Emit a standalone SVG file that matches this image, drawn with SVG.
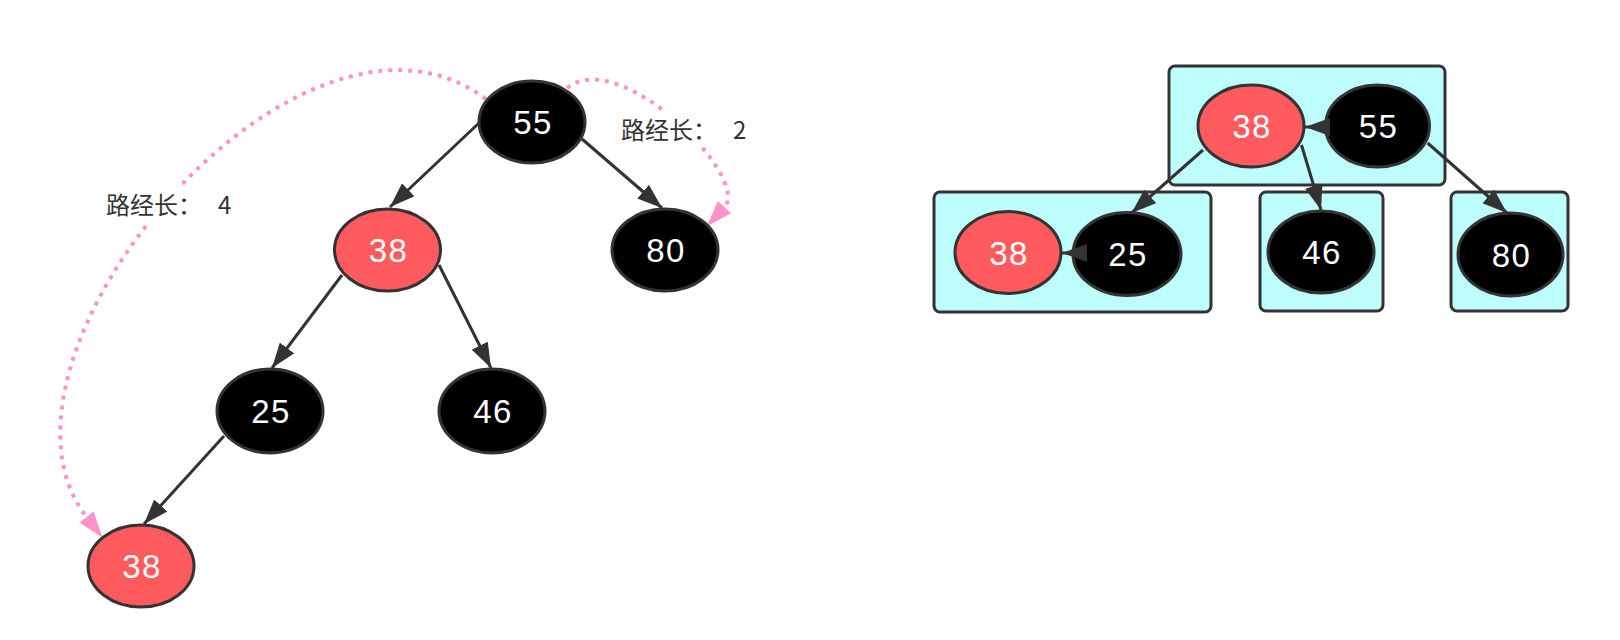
<svg xmlns="http://www.w3.org/2000/svg" width="1620" height="640" viewBox="0 0 1620 640">
<defs>
<style>
.blk{fill:#000;stroke:#333;stroke-width:3}
.red{fill:#ff5b5f;stroke:#333;stroke-width:3}
.box{fill:#bdfefd;stroke:#333;stroke-width:3}
.num{font-family:"Liberation Sans",Arial,sans-serif;font-size:33px;letter-spacing:1.5px;fill:#fff;text-anchor:middle}
.edge{fill:none;stroke:#333;stroke-width:3;marker-end:url(#ah)}
.path{fill:none;stroke:#ff91cb;stroke-width:4;stroke-dasharray:4 6;marker-end:url(#ph)}
.lbl{font-family:"Noto Sans CJK SC","Liberation Sans",sans-serif;font-size:24px;fill:#333}
</style>
<marker id="ah" viewBox="0 -9 25 18" refX="25" refY="0" markerWidth="25" markerHeight="18" markerUnits="userSpaceOnUse" orient="auto">
<path d="M0,-9 L25,0 L0,9 z" fill="#333"/>
</marker>
<marker id="ph" viewBox="0 -9 26 18" refX="0" refY="0" markerWidth="26" markerHeight="18" markerUnits="userSpaceOnUse" orient="auto">
<path d="M0,-9 L26,0 L0,9 z" fill="#ff91cb"/>
</marker>
</defs>
<rect width="1620" height="640" fill="#fff"/>

<g id="paths">
<path class="path" d="M486,99 C300,-40 -36,359 86.5,517"/>
<path class="path" d="M567,88 C620,45 751,178 724.5,207"/>
</g>
<g id="label-4">
<rect x="102" y="186" width="136" height="37" fill="#fff"/>
<text class="lbl" x="106" y="214">路经长： <tspan x="218">4</tspan></text>
</g>
<g id="label-2">
<rect x="616" y="112" width="136" height="35" fill="#fff"/>
<text class="lbl" x="621" y="139">路经长： <tspan x="733">2</tspan></text>
</g>

<g id="L55"><ellipse class="blk" cx="532" cy="122" rx="53" ry="41"/><text class="num" x="533" y="134">55</text></g>
<g id="L38a"><ellipse class="red" cx="387.5" cy="250" rx="53" ry="41"/><text class="num" x="388.5" y="262">38</text></g>
<g id="L80"><ellipse class="blk" cx="665" cy="250" rx="53" ry="41"/><text class="num" x="666" y="262">80</text></g>
<g id="L25"><ellipse class="blk" cx="270" cy="411" rx="53" ry="42"/><text class="num" x="271" y="423">25</text></g>
<g id="L46"><ellipse class="blk" cx="492" cy="411" rx="53" ry="42"/><text class="num" x="493" y="423">46</text></g>
<g id="L38b"><ellipse class="red" cx="141" cy="566" rx="53" ry="41"/><text class="num" x="142" y="578">38</text></g>

<g id="box-top"><rect class="box" x="1169" y="66" width="276" height="119" rx="6"/></g>
<g id="box-left"><rect class="box" x="934" y="192" width="277" height="120" rx="6"/></g>
<g id="box-46"><rect class="box" x="1260" y="192" width="123" height="119" rx="6"/></g>
<g id="box-80"><rect class="box" x="1451" y="192" width="117" height="119" rx="6"/></g>

<g id="R38"><ellipse class="red" cx="1251" cy="126" rx="53" ry="41"/><text class="num" x="1252" y="138">38</text></g>
<g id="R55"><ellipse class="blk" cx="1377.5" cy="126" rx="52" ry="41"/><text class="num" x="1378.5" y="138">55</text></g>
<g id="R38b"><ellipse class="red" cx="1008" cy="252.5" rx="53" ry="41"/><text class="num" x="1009" y="264.5">38</text></g>
<g id="R25"><ellipse class="blk" cx="1127" cy="254" rx="54" ry="41.5"/><text class="num" x="1128" y="266">25</text></g>
<g id="R46"><ellipse class="blk" cx="1321" cy="252" rx="53" ry="41"/><text class="num" x="1322" y="264">46</text></g>
<g id="R80"><ellipse class="blk" cx="1510.5" cy="254.5" rx="52.5" ry="41.5"/><text class="num" x="1511.5" y="266.5">80</text></g>

<g id="connectors">
<path class="edge" d="M479,123 L390,207"/>
<path class="edge" d="M582,139 L662,208"/>
<path class="edge" d="M342,275 L272,368"/>
<path class="edge" d="M439,265 L491,368"/>
<path class="edge" d="M224,436 L144,524"/>
<path class="edge" d="M1326,127 L1305,127"/>
<path class="edge" d="M1203,150 L1131.5,213"/>
<path class="edge" d="M1301.5,145 L1321,210"/>
<path class="edge" d="M1427.6,143 L1507,213"/>
<path class="edge" d="M1075,253 L1062,253"/>
</g>
</svg>
